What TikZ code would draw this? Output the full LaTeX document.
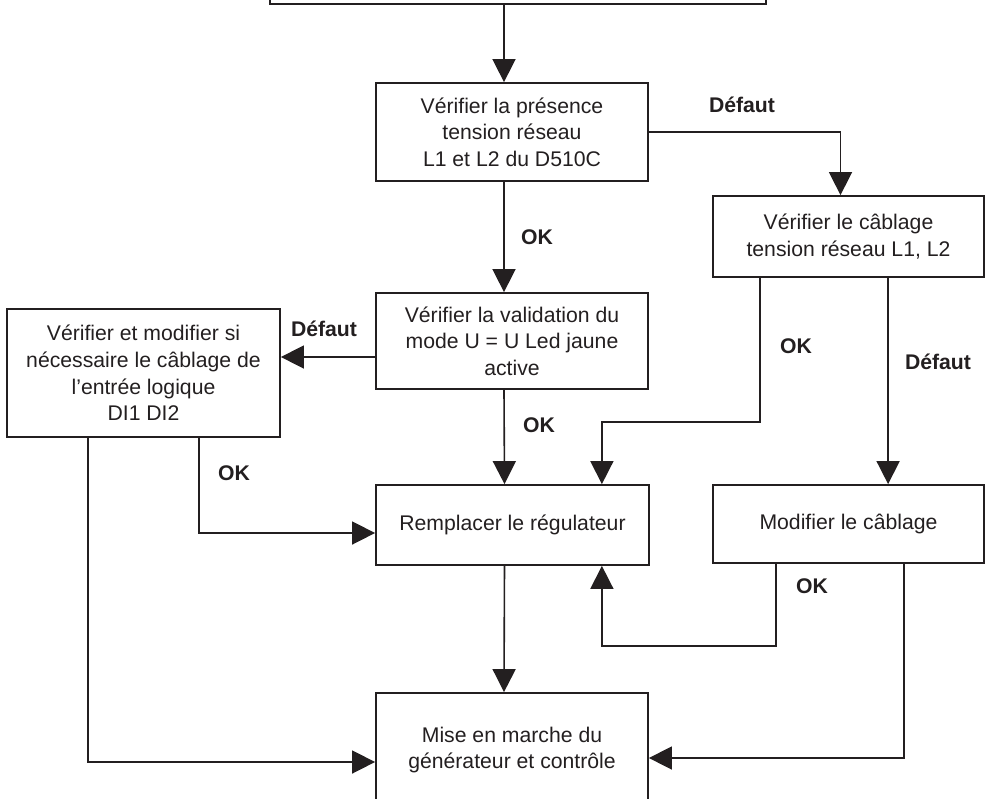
\documentclass[tikz,border=0pt]{standalone}
\usepackage{fontspec}
\setmainfont{Liberation Sans}
\usetikzlibrary{arrows.meta,positioning}
\definecolor{ink}{HTML}{231F20}

\begin{document}
\begin{tikzpicture}[
  x=0.5pt,y=-0.5pt,
  font=\fontsize{10.6}{13.3}\selectfont,
  stepbox/.style={rectangle,draw=ink,line width=0.9pt,inner sep=0pt,
    align=center,text=ink},
  flow/.style={-{Triangle[length=11.5pt,width=11.5pt]},line width=0.8pt,draw=ink},
  wire/.style={line width=0.8pt,draw=ink},
  lbl/.style={font=\fontsize{10.6}{13.3}\selectfont\bfseries,text=ink,inner sep=0pt},
]
\useasboundingbox (0,0) rectangle (987,799);

% Boxes
\node[stepbox,line width=1.4pt,minimum width=248pt,minimum height=34pt] (start) at (518,-30) {};
\node[stepbox,minimum width=136pt,minimum height=49pt] (presence) at (512,132)
  {Vérifier la présence\\tension réseau\\L1 et L2 du D510C};
\node[stepbox,minimum width=135.5pt,minimum height=40.5pt] (cablage) at (848.5,236.5)
  {Vérifier le câblage\\tension réseau L1, L2};
\node[stepbox,minimum width=136pt,minimum height=48pt] (validation) at (512,341)
  {Vérifier la validation du\\mode U = U Led jaune\\active};
\node[stepbox,minimum width=136.5pt,minimum height=64pt] (dientree) at (143.5,373)
  {Vérifier et modifier si\\nécessaire le câblage de\\l’entrée logique\\DI1 DI2};
\node[stepbox,minimum width=136.5pt,minimum height=40pt] (remplacer) at (512.5,525)
  {Remplacer le régulateur};
\node[stepbox,minimum width=135.5pt,minimum height=39pt] (modifier) at (848.5,524)
  {Modifier le câblage};
\node[stepbox,minimum width=136pt,minimum height=57pt] (mise) at (512,750)
  {Mise en marche du\\générateur et contrôle};

% Main column
\coordinate (colA) at ([xshift=-4pt]presence.north);
\draw[flow] (colA |- start.south) -- (colA);
\draw[flow] ([xshift=-4pt]presence.south) -- ([xshift=-4pt]validation.north);
\draw[flow] ([xshift=-4pt]validation.south) -- ([xshift=-4pt]remplacer.north);
\draw[flow] ([xshift=-4pt]remplacer.south) -- ([xshift=-4pt]mise.north);

% Right branch
\draw[flow] (presence.east) -| ([xshift=-4pt]cablage.north);
\draw[flow] ([xshift=24pt]cablage.south west) -- ++(0,-72pt)
  -| ([xshift=-24pt]remplacer.north east);
\draw[flow] ([xshift=88pt]cablage.south west) -- ([xshift=88pt]modifier.north west);
\draw[flow] ([xshift=32pt]modifier.south west) -- ++(0,-41pt)
  -| ([xshift=-24pt]remplacer.south east);
\draw[flow] ([xshift=96pt]modifier.south west) |- ([yshift=-4pt]mise.east);

% Left branch
\coordinate (defIn) at ([yshift=-8pt]validation.west);
\draw[flow] (defIn) -- (defIn -| dientree.east);
\draw[flow] ([xshift=27.75pt]dientree.south) |- ([yshift=-4pt]remplacer.west);
\draw[flow] ([xshift=-27.75pt]dientree.south) |- ([yshift=-6pt]mise.west);

% Labels
\node[lbl] (defA) at (742,105) {Défaut};
\node[lbl] (okA) at (537,237) {OK};
\node[lbl] (defB) at (324,329) {Défaut};
\node[lbl] (okB) at (539,425) {OK};
\node[lbl] (okC) at (796,346) {OK};
\node[lbl] (defC) at (938,362) {Défaut};
\node[lbl] (okD) at (234,473) {OK};
\node[lbl] (okE) at (812,586) {OK};

\end{tikzpicture}
\end{document}
